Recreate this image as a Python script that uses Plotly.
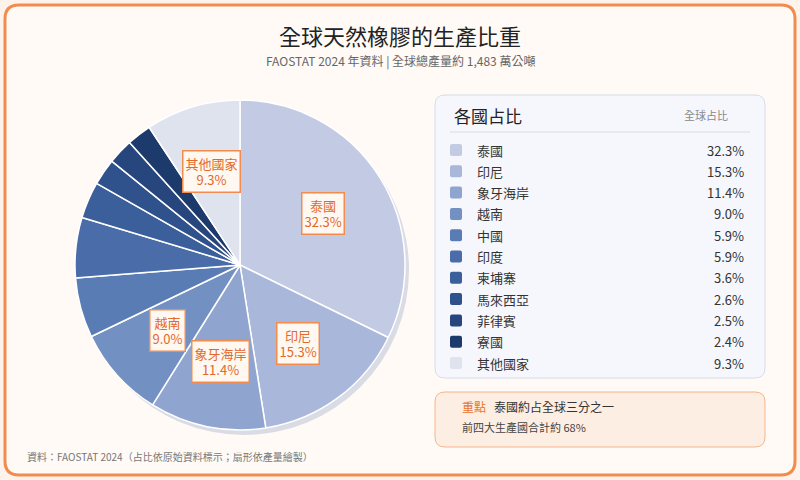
import math
import plotly.graph_objects as go

countries = ["泰國", "印尼", "象牙海岸", "越南", "中國", "印度", "柬埔寨", "馬來西亞", "菲律賓", "寮國", "其他國家"]
shares = [32.3, 15.3, 11.4, 9.0, 5.9, 5.9, 3.6, 2.6, 2.5, 2.4, 9.3]
colors = ["#c3cae3", "#a9b7da", "#8fa4cf", "#7390c3", "#5a7cb5", "#4a6da9",
          "#3b5f9b", "#30528c", "#26467d", "#1c3a6b", "#dfe3ee"]
labeled = ["泰國", "印尼", "象牙海岸", "越南", "其他國家"]

W, H = 800, 480
FONT = "Noto Sans CJK TC"
def px(x): return x / W
def py(y): return 1 - y / H

def rrect(x0, y0, x1, y1, r):
    X = lambda v: f"{px(v):.5f}"
    Y = lambda v: f"{py(v):.5f}"
    return (f"M {X(x0+r)} {Y(y0)} L {X(x1-r)} {Y(y0)} Q {X(x1)} {Y(y0)} {X(x1)} {Y(y0+r)} "
            f"L {X(x1)} {Y(y1-r)} Q {X(x1)} {Y(y1)} {X(x1-r)} {Y(y1)} L {X(x0+r)} {Y(y1)} "
            f"Q {X(x0)} {Y(y1)} {X(x0)} {Y(y1-r)} L {X(x0)} {Y(y0+r)} Q {X(x0)} {Y(y0)} {X(x0+r)} {Y(y0)} Z")

cx, cy, R = 240, 265, 165
fig = go.Figure()
fig.add_trace(go.Pie(labels=countries, values=shares, sort=False, direction="clockwise",
                     rotation=0, marker=dict(colors=colors, line=dict(color="white", width=1.5)),
                     textinfo="none", hoverinfo="label+percent", showlegend=False,
                     domain=dict(x=[px(cx-R), px(cx+R)], y=[py(cy+R), py(cy-R)])))

shapes = [
    dict(type="path", path=rrect(5, 5, 795, 475, 14), fillcolor="#fffaf5",
         line=dict(color="#f28c4e", width=3), xref="paper", yref="paper", layer="below"),
    dict(type="circle", xref="paper", yref="paper", x0=px(cx-R+4), x1=px(cx+R+4),
         y0=py(cy+R+5), y1=py(cy-R+5), fillcolor="#d9dce5", line=dict(width=0), layer="below"),
    dict(type="path", path=rrect(435, 95, 765, 378, 10), fillcolor="#f5f7fc",
         line=dict(color="#d5dcec", width=1), xref="paper", yref="paper", layer="below"),
    dict(type="line", xref="paper", yref="paper", x0=px(450), x1=px(750), y0=py(132), y1=py(132),
         line=dict(color="#d5dcec", width=1)),
    dict(type="path", path=rrect(435, 392, 765, 447, 10), fillcolor="#fdeee3",
         line=dict(color="#f5b58a", width=1), xref="paper", yref="paper", layer="below"),
]

ann = []
def T(x, y, text, size=12, color="#333", xanchor="left", **kw):
    ann.append(dict(x=px(x), y=py(y), xref="paper", yref="paper", text=text, showarrow=False,
                    xanchor=xanchor, yanchor="middle", font=dict(family=FONT, size=size, color=color), **kw))

T(400, 35, "全球天然橡膠的生產比重", 22, "#222", "center")
T(400, 61, "FAOSTAT 2024 年資料 | 全球總產量約 1,483 萬公噸", 12, "#666", "center")
T(452, 115, "各國占比", 17, "#222")
T(730, 115, "全球占比", 11, "#888", "right")
for i, (c, s, col) in enumerate(zip(countries, shares, colors)):
    y = 150 + i * 21.3
    shapes.append(dict(type="path", path=rrect(450, y-6, 462, y+6, 2), fillcolor=col,
                       line=dict(width=0), xref="paper", yref="paper"))
    T(475, y, c, 13, "#333")
    T(746, y, f"{s:.1f}%", 13, "#333", "right")
T(460, 406, "重點", 12, "#e8742f")
T(492, 406, "泰國約占全球三分之一", 12, "#333")
T(460, 427, "前四大生產國合計約 68%", 11, "#444")
T(25, 456, "資料：FAOSTAT 2024（占比依原始資料標示；扇形依產量繪製）", 10, "#777")

total = sum(shares)
cum = 0
for c, s in zip(countries, shares):
    mid = (cum + s / 2) / total * 2 * math.pi
    cum += s
    if c in labeled:
        r = 98
        x = cx + r * math.sin(mid)
        y = cy - r * math.cos(mid)
        T(x, y, f"{c}<br>{s:.1f}%", 13, "#e2692b", "center", bgcolor="#fff8f1",
          bordercolor="#f28c4e", borderwidth=1.5, borderpad=2, align="center")

fig.update_layout(width=W, height=H, margin=dict(l=0, r=0, t=0, b=0),
                  paper_bgcolor="#fdf3ea", plot_bgcolor="#fdf3ea",
                  shapes=shapes, annotations=ann, font=dict(family=FONT))
fig.write_html("out.html", config={"displayModeBar": False},
               post_script="document.body.style.margin='0';document.body.style.background='#fdf3ea';")
